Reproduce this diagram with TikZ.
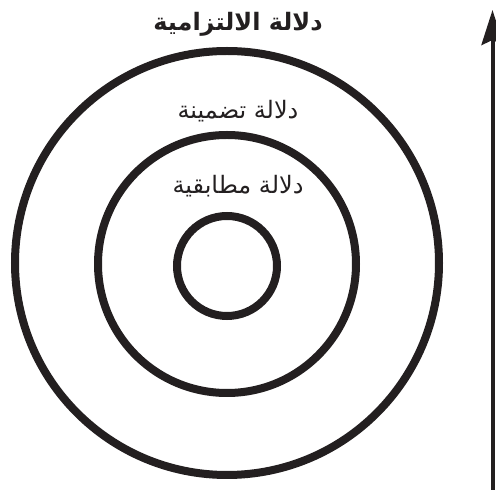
\documentclass[tikz,border=0pt]{standalone}
\usepackage{fontspec}
\newfontfamily\arabicfont[Script=Arabic]{DejaVu Sans}
\TeXXeTstate=1
\usetikzlibrary{arrows.meta,positioning}
\definecolor{Ink}{HTML}{231F20}
\tikzset{
  ringnode/.style={circle,draw=Ink,line width=8pt,inner sep=0pt},
  labelnode/.style={font=\arabicfont\fontsize{24}{28}\selectfont,text=Ink,inner sep=0pt},
  toplabel/.style={labelnode,font=\arabicfont\bfseries\fontsize{24}{28}\selectfont},
  axisarrow/.style={-{Stealth[length=35pt,width=22pt,inset=5pt]},line width=4pt,draw=Ink}
}
\begin{document}
\begin{tikzpicture}[x=1pt,y=1pt]
\useasboundingbox (0,0) rectangle (496,490);
\node[ringnode,minimum size=424pt] (outer) at (227,227) {};
\node[ringnode,minimum size=258pt] (middle) at (227,226) {};
\node[ringnode,minimum size=100pt] (inner) at (227,224) {};
\node[toplabel] (lblouter) at (238,466) {\beginR دلالة الالتزامية\endR};
\node[labelnode] (lblmiddle) at (238,379) {\beginR دلالة تضمينة\endR};
\node[labelnode] (lblinner) at (238,304) {\beginR دلالة مطابقية\endR};
\coordinate (axisbot) at (492.5,0);
\coordinate (axistop) at (492.5,480);
\draw[axisarrow] (axisbot) -- (axistop);
\end{tikzpicture}
\end{document}
